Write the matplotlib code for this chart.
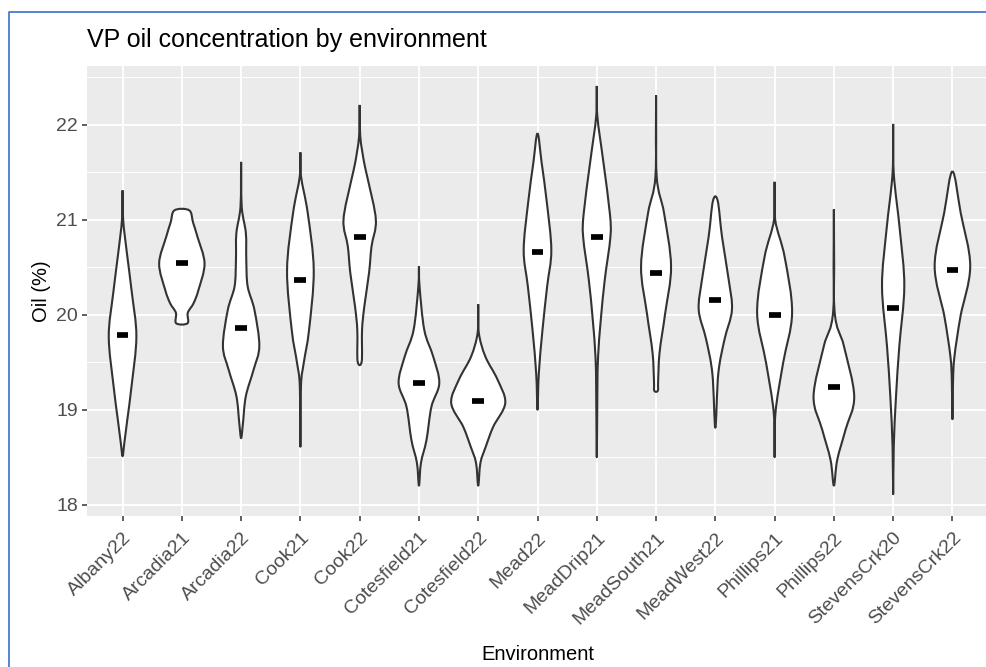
import matplotlib.pyplot as plt
import numpy as np
from matplotlib.path import Path
from matplotlib.patches import PathPatch
from matplotlib.lines import Line2D

plt.rcParams['font.family'] = ['Liberation Sans', 'DejaVu Sans']

envs = ["Albany22", "Arcadia21", "Arcadia22", "Cook21", "Cook22", "Cotesfield21",
        "Cotesfield22", "Mead22", "MeadDrip21", "MeadSouth21", "MeadWest22",
        "Phillips21", "Phillips22", "StevensCrk20", "StevensCrk22"]
medians = [19.79, 20.54, 19.86, 20.37, 20.82, 19.28, 19.09, 20.66, 20.82, 20.44,
           20.16, 20.00, 19.24, 20.07, 20.47]

# violin outlines: oil level and half width (category units)
albany22_y = [21.31, 21.00, 20.65, 20.23, 19.77, 19.25, 18.89, 18.65, 18.51]
albany22_w = [0.0, 0.01, 0.073, 0.157, 0.233, 0.152, 0.079, 0.03, 0.0]
arcadia21_y = [21.10, 20.97, 20.82, 20.54, 20.26, 20.12, 20.02, 19.91]
arcadia21_w = [0.124, 0.19, 0.264, 0.383, 0.28, 0.197, 0.10, 0.096]
arcadia22_y = [21.61, 21.14, 20.86, 20.58, 20.30, 20.05, 19.67, 19.42, 19.14, 18.85, 18.70]
arcadia22_w = [0.0, 0.01, 0.08, 0.087, 0.11, 0.225, 0.307, 0.21, 0.079, 0.03, 0.0]
cook21_y = [21.71, 21.46, 21.07, 20.47, 19.84, 19.49, 19.25, 18.61]
cook21_w = [0.0, 0.01, 0.124, 0.225, 0.146, 0.056, 0.01, 0.0]
cook22_y = [22.21, 21.88, 21.60, 21.42, 21.00, 20.72, 20.44, 20.09, 19.84, 19.51]
cook22_w = [0.0, 0.01, 0.076, 0.14, 0.273, 0.20, 0.158, 0.079, 0.04, 0.035]
cotesfield21_y = [20.51, 20.30, 19.84, 19.56, 19.28, 19.03, 18.68, 18.44, 18.20]
cotesfield21_w = [0.0, 0.01, 0.09, 0.24, 0.343, 0.21, 0.127, 0.034, 0.0]
cotesfield22_y = [20.11, 19.81, 19.56, 19.32, 19.07, 18.82, 18.61, 18.44, 18.20]
cotesfield22_w = [0.0, 0.01, 0.12, 0.323, 0.456, 0.253, 0.127, 0.037, 0.0]
mead22_y = [21.91, 21.60, 21.18, 20.68, 20.30, 19.84, 19.38, 19.00]
mead22_w = [0.0, 0.07, 0.158, 0.233, 0.163, 0.084, 0.022, 0.0]
meaddrip21_y = [22.41, 22.09, 21.60, 21.07, 20.82, 20.37, 19.95, 19.56, 19.20, 18.50]
meaddrip21_w = [0.0, 0.01, 0.113, 0.22, 0.23, 0.135, 0.068, 0.022, 0.01, 0.0]
meadsouth21_y = [22.31, 21.46, 21.07, 20.51, 20.02, 19.60, 19.30, 19.20]
meadsouth21_w = [0.0, 0.01, 0.135, 0.253, 0.155, 0.059, 0.035, 0.03]
meadwest22_y = [21.20, 20.82, 20.37, 20.05, 19.74, 19.38, 18.81]
meadwest22_w = [0.04, 0.113, 0.225, 0.28, 0.155, 0.05, 0.0]
phillips21_y = [21.40, 21.00, 20.61, 20.02, 19.49, 18.97, 18.50]
phillips21_w = [0.0, 0.01, 0.169, 0.295, 0.143, 0.015, 0.0]
phillips22_y = [21.11, 20.05, 19.67, 19.14, 18.79, 18.47, 18.20]
phillips22_w = [0.0, 0.01, 0.169, 0.343, 0.197, 0.056, 0.0]
stevenscrk20_y = [22.01, 21.49, 20.89, 20.30, 19.67, 19.14, 18.61, 18.11]
stevenscrk20_w = [0.0, 0.01, 0.113, 0.188, 0.104, 0.048, 0.01, 0.0]
stevenscrk22_y = [21.51, 21.07, 20.51, 19.98, 19.56, 19.30, 18.90]
stevenscrk22_w = [0.0, 0.14, 0.30, 0.135, 0.034, 0.01, 0.0]

outlines = [(albany22_y, albany22_w), (arcadia21_y, arcadia21_w), (arcadia22_y, arcadia22_w),
            (cook21_y, cook21_w), (cook22_y, cook22_w), (cotesfield21_y, cotesfield21_w),
            (cotesfield22_y, cotesfield22_w), (mead22_y, mead22_w), (meaddrip21_y, meaddrip21_w),
            (meadsouth21_y, meadsouth21_w), (meadwest22_y, meadwest22_w),
            (phillips21_y, phillips21_w), (phillips22_y, phillips22_w),
            (stevenscrk20_y, stevenscrk20_w), (stevenscrk22_y, stevenscrk22_w)]


def smooth_path(pts):
    # closed Catmull-Rom curve turned into cubic bezier segments
    n = len(pts)
    verts = [pts[0]]
    codes = [Path.MOVETO]
    for i in range(n):
        p0, p1, p2, p3 = pts[i - 1], pts[i], pts[(i + 1) % n], pts[(i + 2) % n]
        verts += [p1 + (p2 - p0) / 6, p2 - (p3 - p1) / 6, p2]
        codes += [Path.CURVE4] * 3
    return Path(verts, codes)


fig = plt.figure(figsize=(9.86, 6.67), dpi=100)
ax = fig.add_axes([87 / 986, 151 / 667, 901 / 986, 450 / 667])
ax.set_facecolor('#EBEBEB')

for i, (ys, ws) in enumerate(outlines):
    ys = np.array(ys, dtype=float)
    ws = np.array(ws, dtype=float)
    left = np.column_stack([i - ws, ys])
    right = np.column_stack([i + ws, ys])[::-1]
    pts = np.vstack([left, right])
    keep = [0] + [k for k in range(1, len(pts)) if not np.allclose(pts[k], pts[k - 1])]
    pts = pts[keep]
    if np.allclose(pts[0], pts[-1]):
        pts = pts[:-1]
    ax.add_patch(PathPatch(smooth_path(pts), facecolor='white', edgecolor='#333333',
                           lw=1.5, zorder=3, joinstyle='round'))

x = np.arange(len(envs))
ax.hlines(medians, x - 0.1, x + 0.1, colors='black', lw=4.1, zorder=4, capstyle='butt')

ax.set_xlim(-0.6, 14.6)
ax.set_ylim(17.88, 22.62)
ax.set_xticks(x)
ax.set_xticklabels(envs, rotation=45, ha='right', va='top', rotation_mode='anchor')
ax.set_yticks([18, 19, 20, 21, 22])
ax.set_yticks([18.5, 19.5, 20.5, 21.5, 22.5], minor=True)
ax.grid(which='major', color='white', lw=1.3)
ax.grid(which='minor', axis='y', color='white', lw=0.7)
ax.set_axisbelow(True)
for s in ax.spines.values():
    s.set_visible(False)
ax.tick_params(axis='both', which='major', colors='#333333', length=3.5, width=1.1,
               labelcolor='#4D4D4D', labelsize=14)
ax.tick_params(axis='y', which='minor', length=0)
ax.tick_params(axis='x', pad=6)
ax.tick_params(axis='y', pad=3)

ax.set_xlabel("Environment", fontsize=14.5, labelpad=12)
ax.set_ylabel("Oil (%)", fontsize=14.5, labelpad=4)
ax.set_title("VP oil concentration by environment", fontsize=18, loc='left', pad=14)

fig.add_artist(Line2D([9 / 986, 9 / 986, 1.0], [0, 1 - 12 / 667, 1 - 12 / 667],
                      transform=fig.transFigure, color='#4A7BCB', lw=1.3))

fig.savefig('out.png', dpi=100)
